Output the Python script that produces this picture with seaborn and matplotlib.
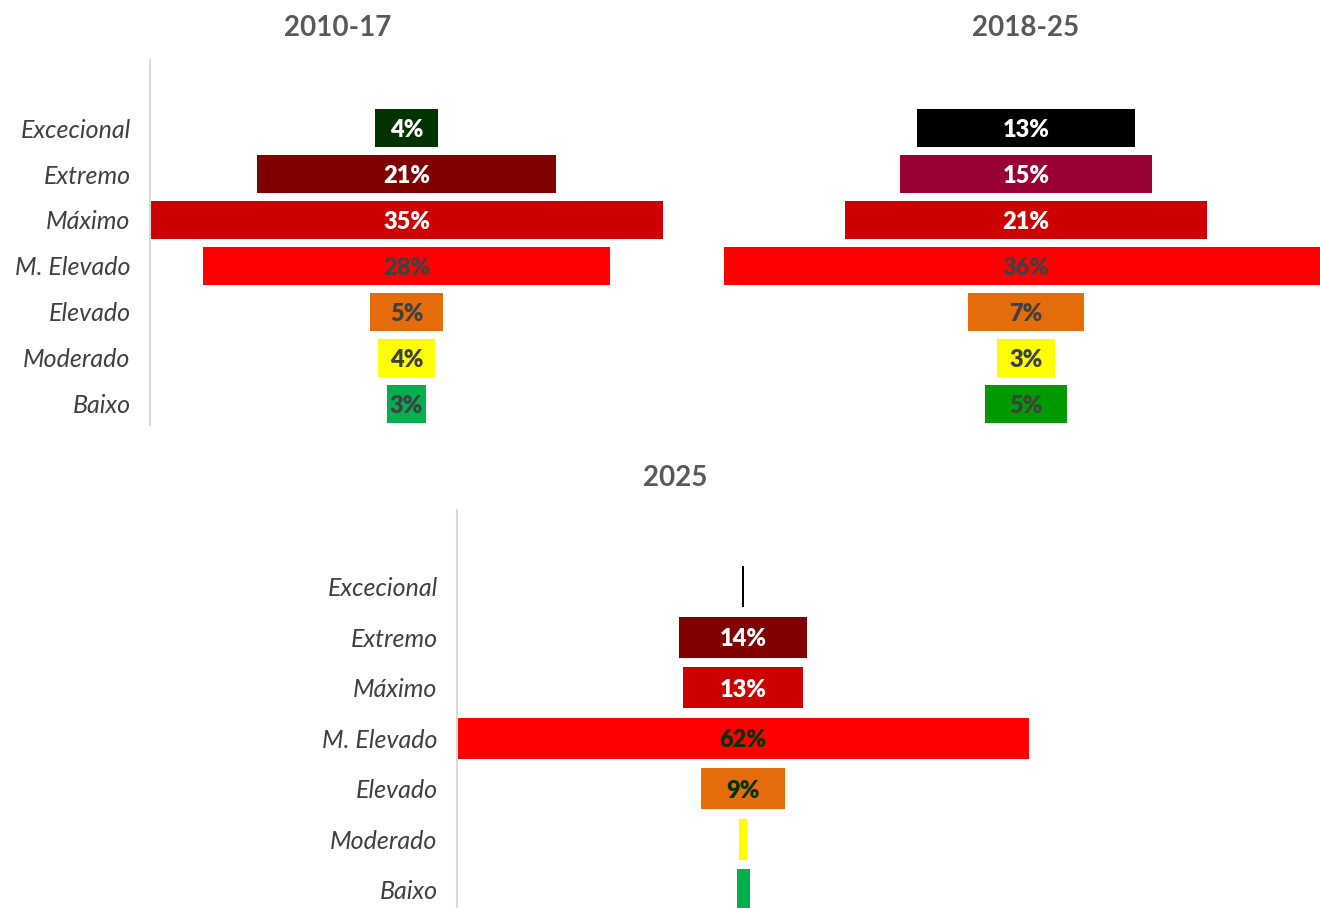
import numpy as np
import pandas as pd
import seaborn as sns
import matplotlib.pyplot as plt

sns.set_style('white')
plt.rcParams['font.family'] = ['Lato', 'DejaVu Sans']

categorias = ['Excecional', 'Extremo', 'Máximo', 'M. Elevado', 'Elevado', 'Moderado', 'Baixo']

# percentagens
v_2010_17 = [4.3, 20.6, 35.4, 28.1, 5.0, 3.9, 2.7]
v_2018_25 = [12.9, 14.9, 21.4, 35.7, 6.8, 3.4, 4.9]
v_2025 = [0.3, 13.8, 12.9, 61.6, 9.1, 0.9, 1.4]

cores_2010_17 = ['#003300', '#800000', '#CC0000', '#FF0000', '#E46C0A', '#FFFF00', '#00B050']
cores_2018_25 = ['#000000', '#990033', '#CC0000', '#FF0000', '#E46C0A', '#FFFF00', '#009900']
cores_2025 = ['#000000', '#800000', '#CC0000', '#FF0000', '#E46C0A', '#FFFF00', '#00B050']

txt_2010_17 = ['white', 'white', 'white', '#404040', '#404040', '#404040', '#404040']
txt_2018_25 = ['white', 'white', 'white', '#404040', '#404040', '#404040', '#404040']
txt_2025 = ['white', 'white', 'white', '#003300', '#003300', '#003300', '#003300']

W, H = 1320, 908
fig = plt.figure(figsize=(W / 100, H / 100), dpi=100)


def funil(rect, valores, cores, cor_txt, ylim, altura, mostrar_eixo, min_label=0):
    ax = fig.add_axes(rect)
    df = pd.DataFrame({'cat': categorias, 'v': valores})
    v = np.array(valores)
    # barras centradas: começam em -v/2
    sns.barplot(data=df, x='v', y='cat', order=categorias, color='gray', saturation=1,
                width=altura, linewidth=0, left=-v / 2, ax=ax)
    for p, c in zip(ax.patches, cores):
        p.set_facecolor(c)
    m = v.max() / 2
    ax.set_xlim(-m, m)
    ax.set_ylim(*ylim)
    ax.set_xlabel('')
    ax.set_ylabel('')
    ax.set_xticks([])
    for s in ['top', 'right', 'bottom']:
        ax.spines[s].set_visible(False)
    if mostrar_eixo:
        ax.spines['left'].set_color('#D9D9D9')
        ax.spines['left'].set_linewidth(1.5)
        ax.tick_params(axis='y', length=0, pad=14, labelsize=18, labelcolor='#404040')
        for t in ax.get_yticklabels():
            t.set_fontstyle('italic')
    else:
        ax.spines['left'].set_visible(False)
        ax.set_yticks([])
    ax.patch.set_alpha(0)
    cont = ax.containers[0]
    labels = ['%.0f%%' % x if x >= min_label else '' for x in valores]
    txts = ax.bar_label(cont, labels=labels, label_type='center',
                        fontsize=17, fontweight='heavy', clip_on=False)
    for t, c in zip(txts, cor_txt):
        t.set_color(c)
        t.set_va('center_baseline')
    return ax


funil([150 / W, 1 - 425 / H, 513 / W, 365 / H], v_2010_17, cores_2010_17, txt_2010_17,
      (6.46, -1.48), 0.83, True)
funil([724 / W, 1 - 425 / H, 604 / W, 365 / H], v_2018_25, cores_2018_25, txt_2018_25,
      (6.46, -1.48), 0.83, False)
funil([457 / W, 0, 572 / W, 398 / H], v_2025, cores_2025, txt_2025,
      (6.36, -1.52), 0.81, True, min_label=2)

for x, y, s in [(338, 28, '2010-17'), (1026, 28, '2018-25'), (675, 478, '2025')]:
    fig.text(x / W, 1 - y / H, s, ha='center', va='center', fontsize=20,
             fontweight='bold', color='#595959')

fig.savefig('out.png', dpi=100)
